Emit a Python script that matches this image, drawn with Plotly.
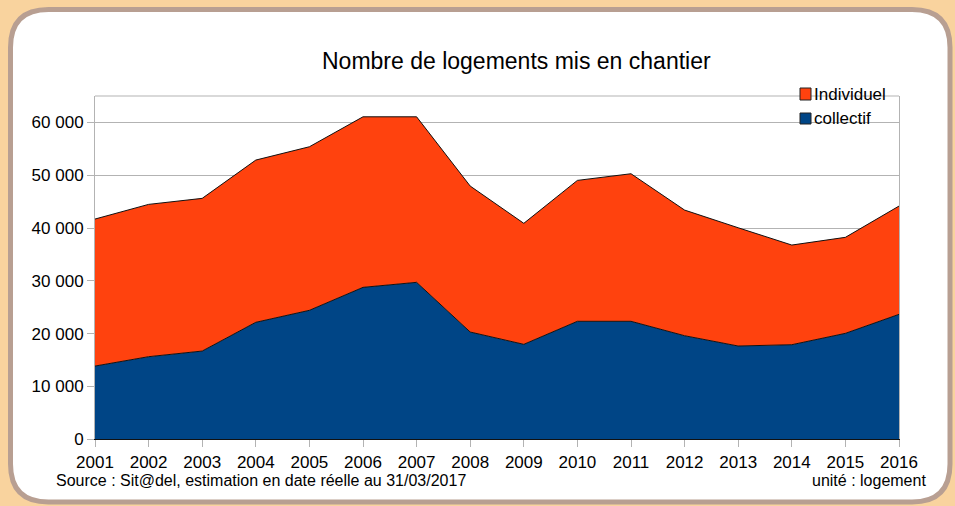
import plotly.graph_objects as go

years = list(range(2001, 2017))
collectif = [13870, 15640, 16710, 22150, 24420, 28770, 29720, 20310,
             17980, 22340, 22340, 19610, 17660, 17910, 20060, 23660]
individuel = [27830, 28840, 28910, 30720, 30970, 32290, 31340, 27640,
              22910, 26680, 27940, 23790, 22390, 18870, 18180, 20500]
y_ticks = [0, 10000, 20000, 30000, 40000, 50000, 60000]

W, H = 955, 506
BLUE = "#004586"
ORANGE = "#FF420E"
BG = "#F9D39E"
FONT = "Liberation Sans, Arial, sans-serif"


def px(x):
    return x / W


def py(y):
    return 1 - y / H


def rounded_rect(x0, y0, x1, y1, r):
    pts = [
        f"M {px(x0 + r)},{py(y0)}",
        f"L {px(x1 - r)},{py(y0)}",
        f"Q {px(x1)},{py(y0)} {px(x1)},{py(y0 + r)}",
        f"L {px(x1)},{py(y1 - r)}",
        f"Q {px(x1)},{py(y1)} {px(x1 - r)},{py(y1)}",
        f"L {px(x0 + r)},{py(y1)}",
        f"Q {px(x0)},{py(y1)} {px(x0)},{py(y1 - r)}",
        f"L {px(x0)},{py(y0 + r)}",
        f"Q {px(x0)},{py(y0)} {px(x0 + r)},{py(y0)}",
        "Z",
    ]
    return " ".join(pts)


fig = go.Figure()
fig.add_trace(go.Scatter(
    x=years, y=collectif, name="collectif", mode="lines",
    stackgroup="one", line=dict(color="#111111", width=1),
    fillcolor=BLUE, showlegend=False))
fig.add_trace(go.Scatter(
    x=years, y=individuel, name="Individuel", mode="lines",
    stackgroup="one", line=dict(color="#111111", width=1),
    fillcolor=ORANGE, showlegend=False))

shapes = [
    dict(type="path", xref="paper", yref="paper", layer="below",
         path=rounded_rect(10.5, 9.5, 950, 502, 38),
         fillcolor="white", line=dict(color="#B89F92", width=5)),
    # top frame line of plot area
    dict(type="line", xref="paper", yref="paper", layer="above",
         x0=px(95), x1=px(899), y0=py(96), y1=py(96),
         line=dict(color="#B3B3B3", width=1)),
    # legend keys
    dict(type="rect", xref="paper", yref="paper", layer="above",
         x0=px(800), x1=px(811), y0=py(88), y1=py(100),
         fillcolor=ORANGE, line=dict(color="#222222", width=1)),
    dict(type="rect", xref="paper", yref="paper", layer="above",
         x0=px(800), x1=px(811), y0=py(113), y1=py(124),
         fillcolor=BLUE, line=dict(color="#222222", width=1)),
]

annotations = [
    dict(text="Nombre de logements mis en chantier", xref="paper", yref="paper",
         x=px(516), y=py(61), showarrow=False, xanchor="center", yanchor="middle",
         font=dict(family=FONT, size=23, color="#000000")),
    dict(text="Individuel", xref="paper", yref="paper",
         x=px(812), y=py(94), showarrow=False, xanchor="left", yanchor="middle",
         font=dict(family=FONT, size=17, color="#000000")),
    dict(text="collectif", xref="paper", yref="paper",
         x=px(812), y=py(119), showarrow=False, xanchor="left", yanchor="middle",
         font=dict(family=FONT, size=17, color="#000000")),
    dict(text="Source : Sit@del, estimation en date réelle au 31/03/2017",
         xref="paper", yref="paper", x=px(54), y=py(480), showarrow=False,
         xanchor="left", yanchor="middle",
         font=dict(family=FONT, size=16, color="#000000")),
    dict(text="unité : logement", xref="paper", yref="paper",
         x=px(928), y=py(480), showarrow=False, xanchor="right", yanchor="middle",
         font=dict(family=FONT, size=16, color="#000000")),
]

fig.update_layout(
    width=W, height=H,
    margin=dict(l=0, r=0, t=0, b=0, pad=0),
    paper_bgcolor=BG,
    plot_bgcolor="rgba(0,0,0,0)",
    separators=", ",
    showlegend=False,
    shapes=shapes,
    annotations=annotations,
    font=dict(family=FONT, size=17, color="#000000"),
    xaxis=dict(
        domain=[px(95), px(899)], range=[2001, 2016],
        tickvals=years, ticktext=[str(y) for y in years],
        showgrid=False, zeroline=False, automargin=False,
        showline=True, linecolor="#111111", linewidth=1,
        ticks="outside", ticklen=7, tickcolor="#B3B3B3",
        tickfont=dict(family=FONT, size=17, color="#000000"),
    ),
    yaxis=dict(
        domain=[py(439.3), py(96)], range=[0, 65000],
        tickvals=y_ticks, tickformat=",d",
        showgrid=True, gridcolor="#B3B3B3", gridwidth=1,
        zeroline=False, automargin=False,
        showline=True, linecolor="#B3B3B3", linewidth=1, mirror=True,
        ticks="outside", ticklen=7, tickcolor="#B3B3B3",
        tickfont=dict(family=FONT, size=17, color="#000000"),
    ),
)

fig.write_html(
    "out.html",
    config={"displayModeBar": False},
    post_script=(
        "document.body.style.margin='0';"
        "document.body.style.overflow='hidden';"
        f"document.body.style.background='{BG}';"
    ),
)
